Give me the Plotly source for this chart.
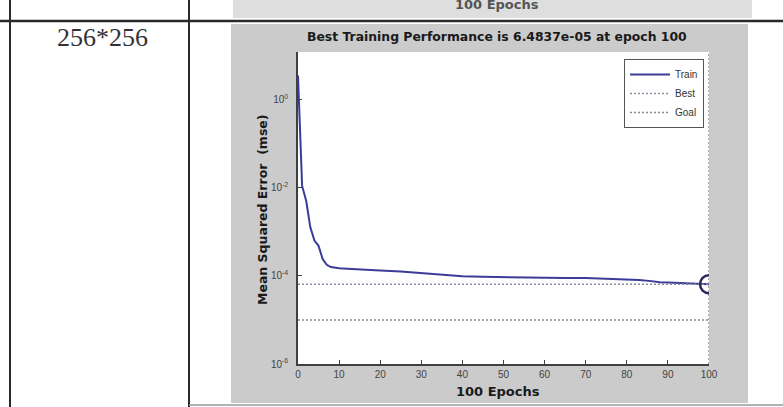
import plotly.graph_objects as go

# ---- data ----
epochs = [0, 1, 2, 3, 4, 5, 6, 7, 8, 9, 10, 12, 15, 20, 25, 30, 35, 40, 45, 50,
          55, 60, 65, 70, 75, 80, 83, 86, 88, 90, 95, 100]
train_mse = [3.5, 1.1e-2, 5.0e-3, 1.26e-3, 6.3e-4, 4.8e-4, 2.4e-4, 1.78e-4, 1.58e-4,
             1.51e-4, 1.48e-4, 1.45e-4, 1.38e-4, 1.32e-4, 1.26e-4, 1.15e-4, 1.05e-4,
             9.8e-5, 9.5e-5, 9.3e-5, 9.2e-5, 9.1e-5, 9.0e-5, 8.9e-5, 8.7e-5, 8.5e-5,
             8.1e-5, 7.6e-5, 7.2e-5, 7.1e-5, 6.8e-5, 6.4837e-5]
best_epoch = 100
best_mse = 6.4837e-5
goal_mse = 1e-5
x_ticks = [0, 10, 20, 30, 40, 50, 60, 70, 80, 90, 100]
y_tickvals = [1e-6, 1e-4, 1e-2, 1]
y_ticktext = ["10<sup>-6</sup>", "10<sup>-4</sup>", "10<sup>-2</sup>", "10<sup>0</sup>"]
title_text = "Best Training Performance is 6.4837e-05 at epoch 100"
row_label = "256*256"

# ---- layout geometry (pixels) ----
W, H = 783, 407
L, R, T, B = 298, 709, 52, 364


def px(x):
    return (x - L) / (R - L)


def py(y):
    return (B - y) / (B - T)


FONT = "Arial, Liberation Sans, sans-serif"
BOLD = "DejaVu Sans, Arial, sans-serif"
fig = go.Figure()

fig.add_trace(go.Scatter(x=epochs, y=train_mse, mode="lines", name="Train",
                         line=dict(color="#3c3c98", width=2)))
fig.add_trace(go.Scatter(x=[0, 100], y=[best_mse, best_mse], mode="lines", name="Best",
                         line=dict(color="#8c8ca0", width=1.5, dash="2px,2px")))
fig.add_trace(go.Scatter(x=[0, 100], y=[goal_mse, goal_mse], mode="lines", name="Goal",
                         line=dict(color="#8a8a8a", width=1.5, dash="2px,2px")))
fig.add_trace(go.Scatter(x=[best_epoch, best_epoch], y=[1e-6, 10 ** 1.08], mode="lines",
                         showlegend=False,
                         line=dict(color="#8c8ca0", width=1.5, dash="2px,2px")))
fig.add_trace(go.Scatter(x=[best_epoch], y=[best_mse], mode="markers", showlegend=False,
                         marker=dict(symbol="circle-open", size=18, color="#2a2a60",
                                     line=dict(color="#2a2a60", width=2.5))))

shapes = []
# gray figure panel and white axes area
shapes.append(dict(type="rect", xref="paper", yref="paper", layer="below",
                   x0=px(231), x1=px(748), y0=py(24), y1=py(403),
                   fillcolor="#cbcbcb", line=dict(width=0)))
shapes.append(dict(type="rect", xref="paper", yref="paper", layer="below",
                   x0=0, x1=1, y0=0, y1=1, fillcolor="white", line=dict(width=0)))
# previous panel strip at top
shapes.append(dict(type="rect", xref="paper", yref="paper", layer="below",
                   x0=px(233), x1=px(752), y0=py(-2), y1=py(18),
                   fillcolor="#dedede", line=dict(width=0)))
# table lines
shapes.append(dict(type="line", xref="paper", yref="paper",
                   x0=px(0), x1=px(783), y0=py(21), y1=py(21),
                   line=dict(color="#2a2a2a", width=2.5)))
shapes.append(dict(type="line", xref="paper", yref="paper",
                   x0=px(10), x1=px(10), y0=py(0), y1=py(407),
                   line=dict(color="#2a2a2a", width=2)))
shapes.append(dict(type="line", xref="paper", yref="paper",
                   x0=px(189), x1=px(189), y0=py(0), y1=py(407),
                   line=dict(color="#2a2a2a", width=2)))
shapes.append(dict(type="line", xref="paper", yref="paper",
                   x0=px(189), x1=px(783), y0=py(405), y1=py(405),
                   line=dict(color="#9a9a9a", width=1.5)))

annotations = [
    dict(text="<b>" + title_text + "</b>", x=px(497), y=py(37), xref="paper", yref="paper",
         showarrow=False, xanchor="center", yanchor="middle",
         font=dict(family=BOLD, size=12.4, color="#1a1a1a")),
    dict(text="<b>100 Epochs</b>", x=px(498), y=py(392), xref="paper", yref="paper",
         showarrow=False, xanchor="center", yanchor="middle",
         font=dict(family=BOLD, size=13, color="#1a1a1a")),
    dict(text="<b>Mean Squared Error  (mse)</b>", x=px(262), y=py(210), xref="paper",
         yref="paper", showarrow=False, xanchor="center", yanchor="middle", textangle=-90,
         font=dict(family=BOLD, size=12.5, color="#1a1a1a")),
    dict(text="<b>100 Epochs</b>", x=px(497), y=py(4), xref="paper", yref="paper",
         showarrow=False, xanchor="center", yanchor="middle",
         font=dict(family=BOLD, size=13, color="#555555")),
    dict(text=row_label, x=px(102), y=py(38), xref="paper", yref="paper",
         showarrow=False, xanchor="center", yanchor="middle",
         font=dict(family="Liberation Serif, Times New Roman, serif", size=26, color="#333333")),
]

fig.update_layout(
    width=W, height=H, autosize=False,
    margin=dict(l=L, r=W - R, t=T, b=H - B, pad=0),
    paper_bgcolor="white", plot_bgcolor="rgba(0,0,0,0)",
    shapes=shapes, annotations=annotations,
    showlegend=True,
    legend=dict(x=px(704), y=py(59), xanchor="right", yanchor="top",
                bgcolor="white", bordercolor="#555555", borderwidth=1,
                font=dict(family=FONT, size=10, color="#333333"),
                tracegroupgap=0, itemwidth=40),
)
fig.update_xaxes(range=[0, 100], tickvals=x_ticks, ticks="inside", ticklen=4,
                 tickcolor="#404040", showline=True, linecolor="#404040", linewidth=1.5,
                 showgrid=False, zeroline=False,
                 tickfont=dict(family=FONT, size=10, color="#444444"))
fig.update_yaxes(type="log", range=[-6, 1.08], tickvals=y_tickvals, ticktext=y_ticktext,
                 ticks="inside", ticklen=4, tickcolor="#404040", showline=True,
                 linecolor="#404040", linewidth=1.5, showgrid=False, zeroline=False,
                 ticklabelstandoff=6,
                 tickfont=dict(family=FONT, size=10, color="#444444"))

fig.write_html("out.html", config={"displayModeBar": False},
               post_script="document.body.style.margin='0';document.body.style.padding='0';")
